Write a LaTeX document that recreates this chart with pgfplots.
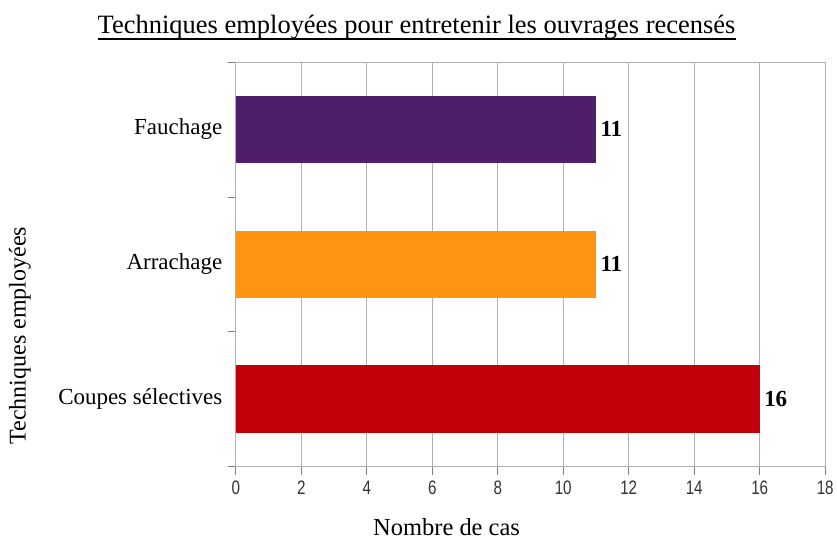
\documentclass[border=0pt]{standalone}
\usepackage{fontspec}
\setmainfont{Liberation Serif}
\newfontfamily\ticksans{Liberation Sans}
\usepackage{pgfplots}
\pgfplotsset{compat=1.18}
\usepackage{graphicx}
\definecolor{cpurple}{RGB}{78,30,106}
\definecolor{corange}{RGB}{255,148,18}
\definecolor{cred}{RGB}{192,0,11}
\definecolor{cgrid}{RGB}{178,178,178}
\begin{document}
\begin{tikzpicture}
\begin{axis}[
  name=ax,
  at={(0,0)}, anchor=south west,
  scale only axis,
  width=590pt, height=405pt,
  xbar, bar width=0.5, bar shift=0pt,
  xmin=0, xmax=18,
  ymin=-0.5, ymax=2.5,
  xtick={0,2,...,18},
  ytick={0,1,2},
  yticklabels={Coupes sélectives,Arrachage,Fauchage},
  minor ytick={-0.5,0.5,1.5,2.5},
  tick pos=left,
  tick align=outside,
  major tick length=8pt,
  minor tick length=8pt,
  major y tick style={draw=none},
  minor y tick style={draw=gray, line width=0.6pt},
  x tick style={draw=gray, line width=0.6pt},
  xmajorgrids,
  grid style={cgrid, line width=0.7pt},
  axis line style={cgrid, line width=0.8pt},
  yticklabel style={font=\fontsize{23}{27}\selectfont, xshift=-2pt},
  xticklabel={\scalebox{0.78}[1]{\ticksans\fontsize{19.5}{22}\selectfont\color{black!80}\pgfmathprintnumber[assume math mode=true]{\tick}}},
  xticklabel style={yshift=-3pt},
  nodes near coords={\pgfmathprintnumber[assume math mode=true]{\pgfplotspointmeta}},
  every node near coord/.append style={font=\bfseries\fontsize{23}{26}\selectfont, anchor=west, black, xshift=1pt},
  clip=false,
]
\addplot[fill=cred, draw=none] coordinates {(16,0)};
\addplot[fill=corange, draw=none] coordinates {(11,1)};
\addplot[fill=cpurple, draw=none] coordinates {(11,2)};
\end{axis}
\node[inner sep=0pt, anchor=base] (t) at ([xshift=181pt, yshift=433pt]ax.south west) {\fontsize{26.5}{30}\selectfont Techniques employées pour entretenir les ouvrages recensés};
\draw[line width=1.4pt] ([yshift=-5pt]t.base west) -- ([yshift=-5pt]t.base east);
\node[inner sep=0pt] at ([xshift=211pt, yshift=-61pt]ax.south west) {\fontsize{24.5}{28}\selectfont Nombre de cas};
\node[inner sep=0pt, rotate=90] at ([xshift=-216pt, yshift=131pt]ax.south west) {\fontsize{24}{28}\selectfont Techniques employées};
\path ([xshift=-236pt, yshift=-75pt]ax.south west) rectangle ([xshift=601pt, yshift=467pt]ax.south west);
\end{tikzpicture}
\end{document}
